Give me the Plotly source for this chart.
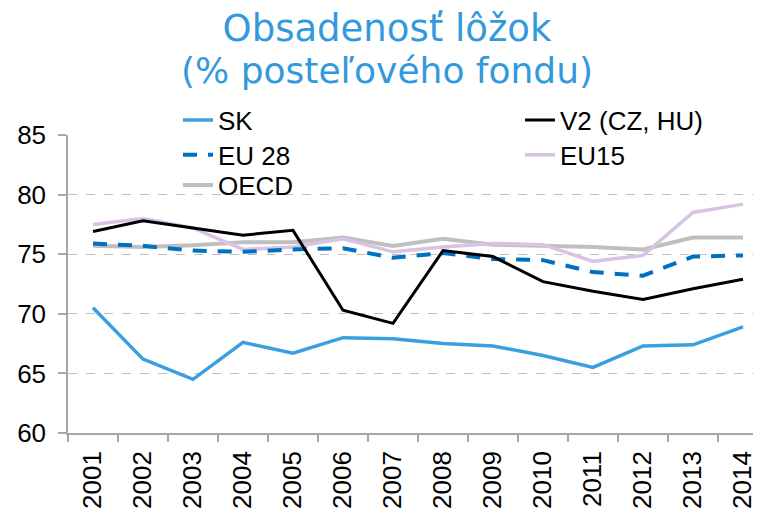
import plotly.graph_objects as go

years = ["2001", "2002", "2003", "2004", "2005", "2006", "2007",
         "2008", "2009", "2010", "2011", "2012", "2013", "2014"]
sk = [70.5, 66.2, 64.5, 67.6, 66.7, 68.0, 67.9, 67.5, 67.3, 66.5, 65.5, 67.3, 67.4, 68.9]
v2 = [76.9, 77.8, 77.2, 76.6, 77.0, 70.3, 69.2, 75.3, 74.8, 72.7, 71.9, 71.2, 72.1, 72.9]
eu28 = [75.9, 75.7, 75.3, 75.2, 75.4, 75.5, 74.7, 75.1, 74.6, 74.5, 73.5, 73.2, 74.8, 74.9]
eu15 = [77.5, 78.0, 77.2, 75.4, 75.6, 76.3, 75.2, 75.6, 75.9, 75.8, 74.4, 74.9, 78.5, 79.2]
oecd = [75.7, 75.6, 75.75, 76.0, 76.0, 76.4, 75.7, 76.3, 75.8, 75.7, 75.6, 75.4, 76.4, 76.4]

y_ticks = [60, 65, 70, 75, 80, 85]

fig = go.Figure()
fig.add_trace(go.Scatter(x=years, y=oecd, name="OECD", mode="lines",
                         line=dict(color="#BFBFBF", width=4), legend="legend5"))
fig.add_trace(go.Scatter(x=years, y=eu15, name="EU15", mode="lines",
                         line=dict(color="#D9C3E3", width=3.5), legend="legend4"))
fig.add_trace(go.Scatter(x=years, y=eu28, name="EU 28", mode="lines",
                         line=dict(color="#0070C0", width=4, dash="14px,11px"), legend="legend3"))
fig.add_trace(go.Scatter(x=years, y=v2, name="V2 (CZ, HU)", mode="lines",
                         line=dict(color="#000000", width=3), legend="legend2"))
fig.add_trace(go.Scatter(x=years, y=sk, name="SK", mode="lines",
                         line=dict(color="#3A9FE0", width=3.5), legend="legend"))

legend_common = dict(orientation="v", xanchor="left", yanchor="middle",
                     bgcolor="rgba(0,0,0,0)", borderwidth=0,
                     font=dict(family="Liberation Sans, Arial, sans-serif", size=26, color="#000000"))

col1, col2 = 0.1569, 0.6448
row1, row2, row3 = 1.05, 0.933, 0.832

fig.update_layout(
    width=761, height=516,
    margin=dict(l=60, r=0, t=127, b=91),
    paper_bgcolor="white", plot_bgcolor="white",
    showlegend=True,
    title=dict(text="Obsadenosť lôžok", x=0.498, xanchor="center",
               y=1 - 20 / 516, yanchor="middle", yref="container",
               font=dict(family="DejaVu Sans, sans-serif", size=37, color="#3399DD")),
    legend=dict(x=col1, y=row1, **legend_common),
    legend2=dict(x=col2, y=row1, **legend_common),
    legend3=dict(x=col1, y=row2, **legend_common),
    legend4=dict(x=col2, y=row2, **legend_common),
    legend5=dict(x=col1, y=row3, **legend_common),
    xaxis=dict(type="category", range=[-0.5, 13.52], showgrid=False,
               showline=True, linecolor="#A6A6A6", linewidth=1.5,
               ticks="outside", tickson="boundaries", ticklen=7, tickcolor="#A6A6A6",
               tickwidth=1.5, tickangle=-90, ticklabelstandoff=6,
               tickfont=dict(family="Liberation Sans, Arial, sans-serif", size=26, color="#000000")),
    yaxis=dict(range=[60, 85], tickvals=y_ticks, showgrid=True,
               gridcolor="#BFBFBF", griddash="dash", gridwidth=1.2,
               showline=True, linecolor="#A6A6A6", linewidth=1.5,
               ticks="outside", ticklen=8, tickcolor="#A6A6A6", tickwidth=1.5,
               ticklabelstandoff=7, zeroline=False,
               tickfont=dict(family="Liberation Sans, Arial, sans-serif", size=26, color="#000000")),
    annotations=[dict(text="(% posteľového fondu)", xref="paper", yref="paper",
                      x=0.455, y=1.218, xanchor="center", yanchor="middle", showarrow=False,
                      font=dict(family="DejaVu Sans, sans-serif", size=36, color="#3399DD"))],
)

fig.write_html("out.html")
